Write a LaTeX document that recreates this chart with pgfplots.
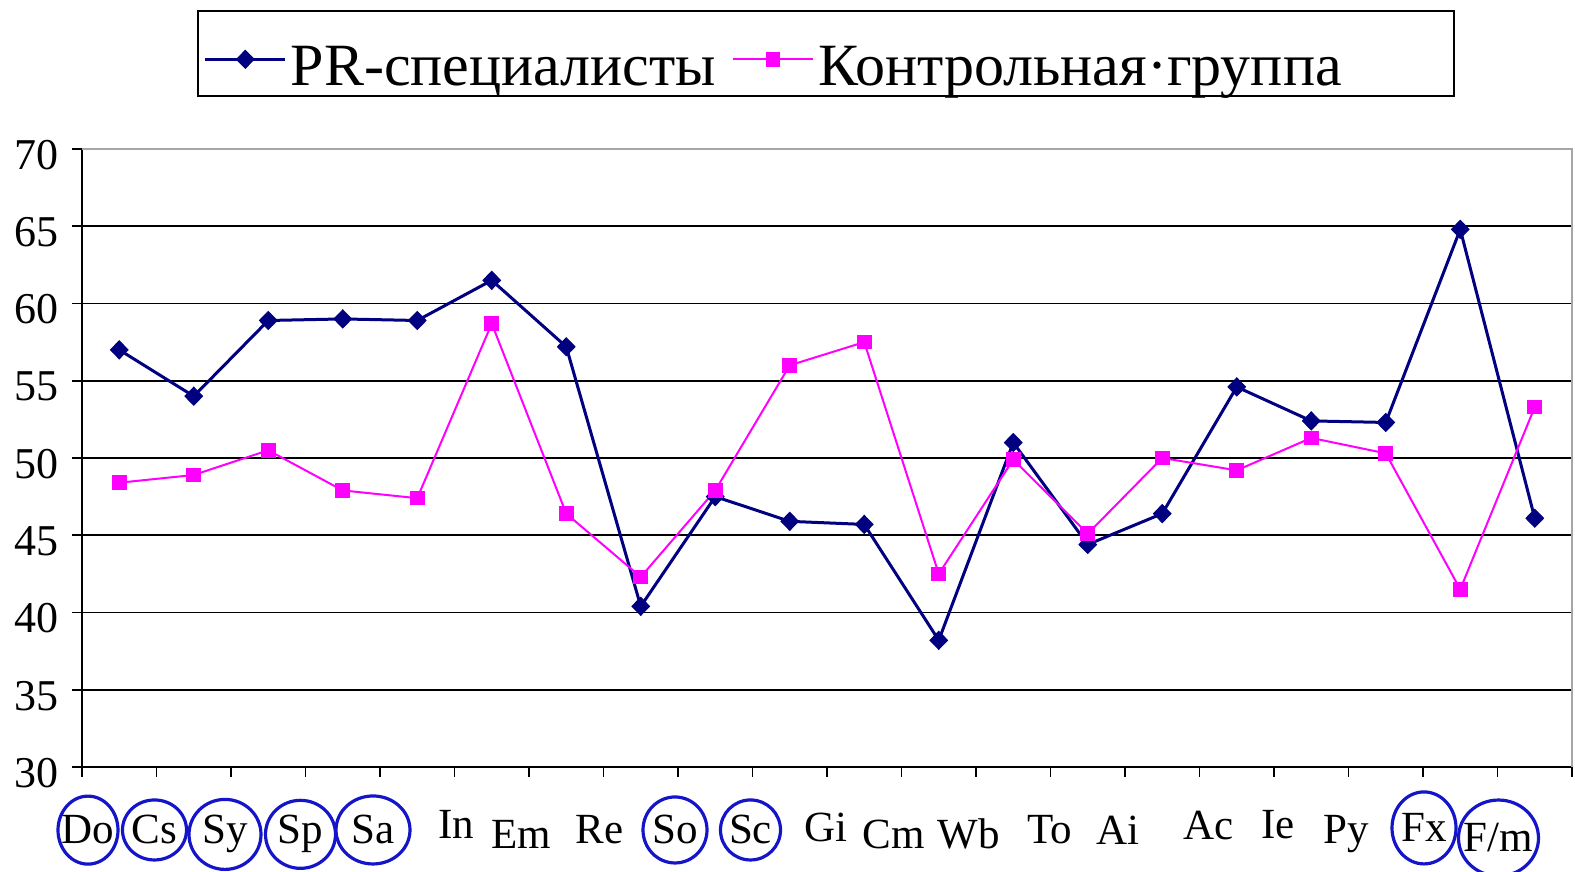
\documentclass[border=0pt]{standalone}
\usepackage{pgfplots}
\pgfplotsset{compat=1.18}
\usepackage{fontspec}
\setmainfont{Liberation Serif}
\definecolor{prnavy}{RGB}{0,0,128}
\definecolor{ctrlmag}{RGB}{255,0,255}
\definecolor{cblue}{RGB}{20,20,200}
\newcommand{\lab}[3]{\makebox[0pt][c]{\hspace*{#1}\hspace*{#1}\raisebox{#2}{#3}}}
\newcommand{\circd}[3]{\tikz[baseline=(c.base)]{\node[inner sep=0pt](c){#1};\draw[cblue,line width=1.6pt] (c.center) ellipse [x radius=#2, y radius=#3];}}
\newcommand{\lstrut}{\rule[-11pt]{0pt}{45pt}}
\begin{document}
\begin{tikzpicture}
\path[use as bounding box] (0,0) rectangle (787.5pt,436pt);
\begin{axis}[
  at={(41pt,52.5pt)}, anchor=south west,
  scale only axis, width=745pt, height=309pt,
  xmin=0, xmax=20, ymin=30, ymax=70,
  xtick={0,...,19},
  xticklabels={
    \lab{3pt}{0pt}{\circd{Do}{15pt}{17pt}},
    \lab{-1pt}{0pt}{\circd{Cs}{16pt}{15pt}},
    \lab{-3pt}{0pt}{\circd{Sy}{18pt}{17.5pt}},
    \lab{-2.5pt}{0pt}{\circd{Sp}{17.5pt}{17pt}},
    \lab{-3.5pt}{0pt}{\circd{Sa}{18.5pt}{17pt}},
    \lab{1pt}{2.5pt}{In},
    \lab{-4pt}{-2.5pt}{Em},
    \lab{-2pt}{0pt}{Re},
    \lab{-1.5pt}{0pt}{\circd{So}{16pt}{16.5pt}},
    \lab{-1pt}{0pt}{\circd{Sc}{15pt}{15pt}},
    \lab{-0.5pt}{1pt}{Gi},
    \lab{-4pt}{-2.5pt}{Cm},
    \lab{-3.5pt}{-2.5pt}{Wb},
    \lab{-0.5pt}{0pt}{To},
    \lab{-3.5pt}{-0.5pt}{Ai},
    \lab{4.5pt}{2pt}{Ac},
    \lab{2pt}{2.5pt}{Ie},
    \lab{-1pt}{0pt}{Py},
    \lab{0.5pt}{1pt}{\circd{Fx}{16pt}{18pt}},
    \lab{0.5pt}{-4pt}{\circd{F/m}{20pt}{19pt}}},
  extra x ticks={20}, extra x tick labels={},
  ytick={30,35,...,70},
  ymajorgrids, grid style={black, line width=0.8pt},
  axis x line*=bottom, axis y line*=left,
  axis line style={line width=1pt, black, -},
  tick align=outside, major tick length=5pt,
  tick style={black, line width=0.8pt},
  xticklabel style={font=\fontsize{21.5}{24}\selectfont, anchor=base, inner sep=0pt, yshift=-33.5pt},
  yticklabel style={font=\fontsize{22}{26}\selectfont, yshift=-3pt, xshift=-3pt},
  /pgf/number format/assume math mode=true,
  legend columns=2,
  legend cell align=left,
  legend style={at={(axis description cs:0.0772,1.2249)}, anchor=north west,
    draw=black, line width=0.8pt, font=\fontsize{30}{34}\selectfont,
    inner xsep=3pt, inner ysep=3.5pt,
    nodes={inner ysep=0pt},
    /tikz/every even column/.append style={column sep=6pt}},
  legend image code/.code={\draw[mark repeat=2,mark phase=2] plot coordinates {(0pt,-3pt) (20pt,-3pt) (40pt,-3pt)};},
  clip=false
]
\addplot[prnavy, line width=1.5pt, mark=diamond*, mark size=4.5pt, mark options={xscale=1.3, line width=0.5pt, solid}]
coordinates {(0.5,57.0)(1.5,54.0)(2.5,58.9)(3.5,59.0)(4.5,58.9)(5.5,61.5)(6.5,57.2)(7.5,40.4)(8.5,47.5)(9.5,45.9)(10.5,45.7)(11.5,38.2)(12.5,51.0)(13.5,44.4)(14.5,46.4)(15.5,54.6)(16.5,52.4)(17.5,52.3)(18.5,64.8)(19.5,46.1)};
\addlegendentry{\lstrut PR-специалисты}
\addplot[ctrlmag, line width=1pt, mark=square*, mark size=3.4pt, mark options={line width=0.5pt, solid}]
coordinates {(0.5,48.4)(1.5,48.9)(2.5,50.5)(3.5,47.9)(4.5,47.4)(5.5,58.7)(6.5,46.4)(7.5,42.3)(8.5,47.9)(9.5,56.0)(10.5,57.5)(11.5,42.5)(12.5,49.9)(13.5,45.1)(14.5,50.0)(15.5,49.2)(16.5,51.3)(17.5,50.3)(18.5,41.5)(19.5,53.3)};
\addlegendentry{\lstrut Контрольная·группа\hspace*{51pt}}
\draw[gray!70, line width=1pt] (rel axis cs:0,1) -- (rel axis cs:1,1) -- (rel axis cs:1,0);
\end{axis}
\end{tikzpicture}
\end{document}
